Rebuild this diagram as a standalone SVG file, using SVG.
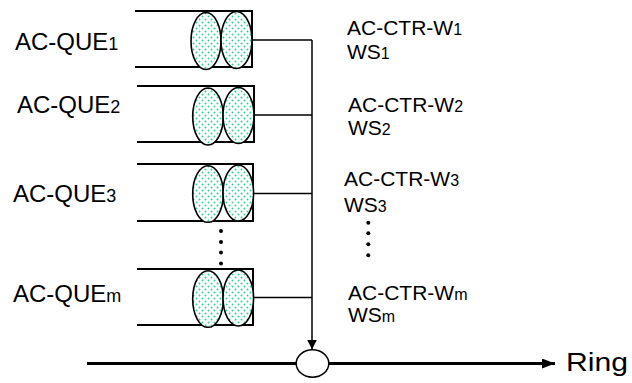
<svg xmlns="http://www.w3.org/2000/svg" width="632" height="383" viewBox="0 0 632 383">
  <style>
    text { font-family: "Liberation Sans", Arial, sans-serif; fill: #000; }
    .que { font-size: 24px; }
    .ctr { font-size: 21px; }
    .sub { font-size: 16px; }
    .sub2 { font-size: 18px; }
    .box { fill: none; stroke: #000; stroke-width: 2; }
    .cell { fill: url(#dots); stroke: #000; stroke-width: 1.6; }
    .wire { fill: none; stroke: #000; stroke-width: 1.5; }
    .ring { fill: none; stroke: #000; stroke-width: 3; }
    .dot { fill: #000; }
  </style>
  <defs>
    <pattern id="dots" width="6" height="6" patternUnits="userSpaceOnUse">
      <rect width="6" height="6" fill="#fff"/>
      <circle cx="1.5" cy="1.5" r="1" fill="#2fd0a0"/>
      <circle cx="4.5" cy="4.5" r="1" fill="#2fd0a0"/>
    </pattern>
    <marker id="arrow" viewBox="0 0 10 10" refX="10" refY="5" markerWidth="10" markerHeight="10" markerUnits="userSpaceOnUse" orient="auto">
      <path d="M0,0 L10,5 L0,10 Z" fill="#000"/>
    </marker>
    <marker id="arrowBig" viewBox="0 0 13 10" refX="13" refY="5" markerWidth="13" markerHeight="10" markerUnits="userSpaceOnUse" orient="auto">
      <path d="M0,0 L13,5 L0,10 Z" fill="#000"/>
    </marker>
  </defs>

  <!-- queue 1 -->
  <g id="que1">
    <path class="box" d="M135,11 H252 V67 H135"/>
    <ellipse class="cell" cx="206" cy="41" rx="15" ry="28.5"/>
    <ellipse class="cell" cx="236.5" cy="40" rx="15.5" ry="28.5"/>
    <text class="que" x="15" y="50">AC-QUE<tspan class="sub2">1</tspan></text>
  </g>

  <!-- queue 2 -->
  <g id="que2">
    <path class="box" d="M137,86 H254 V142 H137"/>
    <ellipse class="cell" cx="208" cy="116.5" rx="15.3" ry="28.5"/>
    <ellipse class="cell" cx="238.5" cy="115.5" rx="15.5" ry="28"/>
    <text class="que" x="17" y="113">AC-QUE<tspan class="sub2">2</tspan></text>
  </g>

  <!-- queue 3 -->
  <g id="que3">
    <path class="box" d="M137,164 H253 V221 H137"/>
    <ellipse class="cell" cx="208" cy="194" rx="15.3" ry="28.3"/>
    <ellipse class="cell" cx="238.3" cy="193" rx="15.3" ry="28"/>
    <text class="que" x="13" y="201.5">AC-QUE<tspan class="sub2">3</tspan></text>
  </g>

  <!-- vertical ellipsis between queues -->
  <g id="que-dots">
    <circle class="dot" cx="221" cy="231" r="2"/>
    <circle class="dot" cx="221" cy="242" r="2"/>
    <circle class="dot" cx="221" cy="252.5" r="2"/>
    <circle class="dot" cx="221" cy="263.5" r="2"/>
  </g>

  <!-- queue m -->
  <g id="quem">
    <path class="box" d="M137,269 H253 V325 H137"/>
    <ellipse class="cell" cx="208" cy="299" rx="15.3" ry="28.3"/>
    <ellipse class="cell" cx="238.3" cy="298" rx="15.3" ry="28"/>
    <text class="que" x="13" y="301.5">AC-QUE<tspan class="sub2">m</tspan></text>
  </g>

  <!-- ring node -->
  <g id="ring-node">
    <ellipse cx="312.5" cy="363.5" rx="16.3" ry="13.7" fill="#fff" stroke="#000" stroke-width="1.5"/>
  </g>

  <!-- control labels -->
  <g id="ctr-labels">
    <text class="ctr" x="347" y="35">AC-CTR-W<tspan class="sub">1</tspan></text>
    <text class="ctr" x="347" y="59">WS<tspan class="sub">1</tspan></text>
    <text class="ctr" x="348" y="111.5">AC-CTR-W<tspan class="sub">2</tspan></text>
    <text class="ctr" x="348" y="135">WS<tspan class="sub">2</tspan></text>
    <text class="ctr" x="344" y="186">AC-CTR-W<tspan class="sub">3</tspan></text>
    <text class="ctr" x="344" y="211.5">WS<tspan class="sub">3</tspan></text>
    <circle class="dot" cx="368.3" cy="222.7" r="2"/>
    <circle class="dot" cx="368.3" cy="233.3" r="2"/>
    <circle class="dot" cx="368.3" cy="244.3" r="2"/>
    <circle class="dot" cx="368.3" cy="255.3" r="2"/>
    <text class="ctr" x="348" y="300">AC-CTR-W<tspan class="sub">m</tspan></text>
    <text class="ctr" x="348" y="321.5">WS<tspan class="sub">m</tspan></text>
  </g>

  <!-- connectors -->
  <g id="connectors">
    <line class="wire" x1="252" y1="40" x2="312" y2="40"/>
    <line class="wire" x1="254" y1="115" x2="312" y2="115"/>
    <line class="wire" x1="253" y1="193.5" x2="312" y2="193.5"/>
    <line class="wire" x1="253" y1="297.5" x2="312" y2="297.5"/>
    <line class="wire" x1="312" y1="40" x2="312" y2="349.5" marker-end="url(#arrow)"/>
    <line class="ring" x1="87" y1="363.5" x2="296.2" y2="363.5"/>
    <line class="ring" x1="328.8" y1="363.5" x2="555" y2="363.5" marker-end="url(#arrowBig)"/>
  </g>

  <text id="ring-label" x="566" y="371" style="font-size:25px" textLength="62" lengthAdjust="spacingAndGlyphs">Ring</text>
</svg>
